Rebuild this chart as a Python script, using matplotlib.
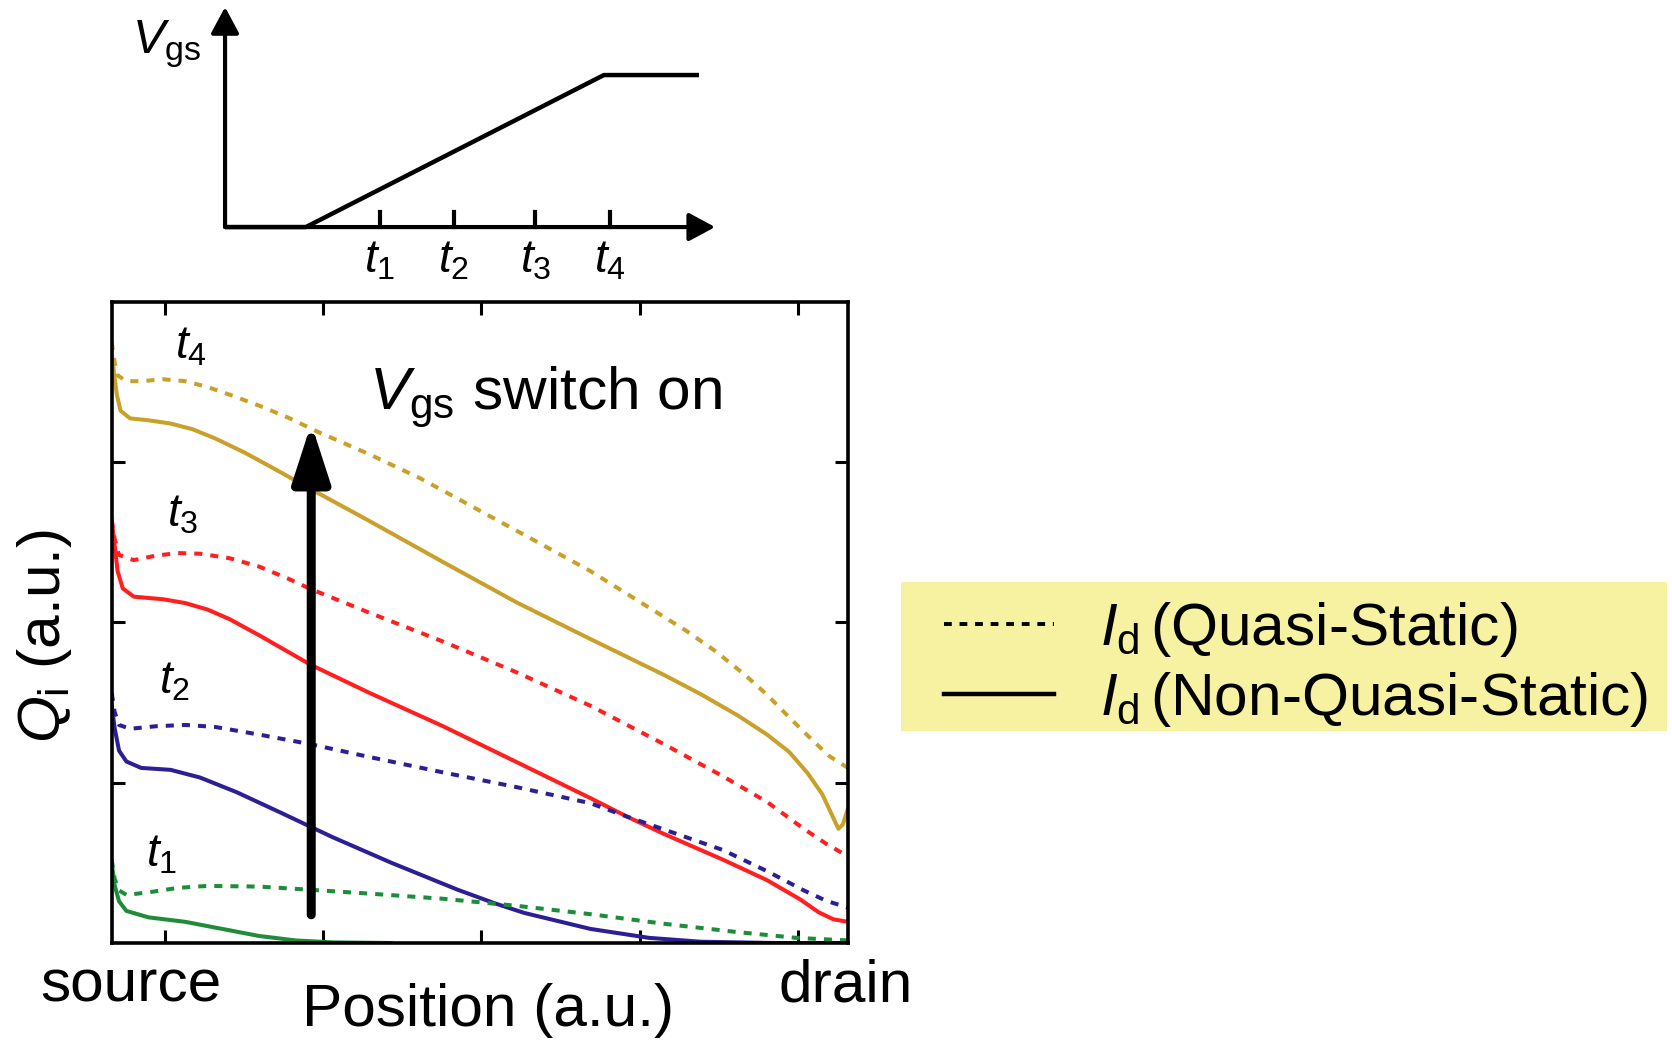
import matplotlib
matplotlib.use("Agg")
import matplotlib.pyplot as plt
from matplotlib.lines import Line2D
from matplotlib.patches import Rectangle

plt.rcParams['font.family'] = ['Liberation Sans', 'DejaVu Sans']
plt.rcParams['mathtext.fontset'] = 'custom'
plt.rcParams['mathtext.rm'] = 'Liberation Sans'
plt.rcParams['mathtext.it'] = 'Liberation Sans:italic'
plt.rcParams['mathtext.bf'] = 'Liberation Sans:bold'

# --- inset: Vgs ramp vs time ---
ramp_t = [0.0, 0.165, 0.773, 0.967]
ramp_v = [0.0, 0.0, 0.691, 0.691]
t_ticks = [0.316, 0.467, 0.633, 0.786]
t_names = ['$t_1$', '$t_2$', '$t_3$', '$t_4$']

# --- main plot: charge along the channel (position 0..1) ---
# t4 (gold)
x_t4_qs = [0.0, 0.004, 0.008, 0.02, 0.04, 0.07, 0.10, 0.13, 0.16, 0.2, 0.24, 0.28, 0.35, 0.42,
           0.50, 0.58, 0.65, 0.72, 0.78, 0.82, 0.86, 0.89, 0.92, 0.95, 0.975, 1.0]
y_t4_qs = [0.937, 0.905, 0.885, 0.876, 0.876, 0.879, 0.876, 0.867, 0.855, 0.838, 0.819, 0.797,
           0.762, 0.724, 0.674, 0.624, 0.58, 0.53, 0.487, 0.455, 0.418, 0.387, 0.352, 0.318,
           0.291, 0.273]
x_t4_nqs = [0.0, 0.003, 0.007, 0.012, 0.025, 0.05, 0.08, 0.11, 0.14, 0.18, 0.22, 0.27, 0.35, 0.45,
            0.55, 0.65, 0.75, 0.8, 0.85, 0.89, 0.92, 0.945, 0.965, 0.978, 0.987, 0.993, 1.0]
y_t4_nqs = [0.92, 0.89, 0.855, 0.83, 0.818, 0.815, 0.81, 0.801, 0.787, 0.765, 0.74, 0.708, 0.658,
            0.594, 0.531, 0.474, 0.418, 0.388, 0.355, 0.325, 0.298, 0.265, 0.232, 0.2, 0.178,
            0.185, 0.21]
# t3 (red)
x_t3_qs = [0.0, 0.004, 0.01, 0.03, 0.06, 0.09, 0.12, 0.16, 0.2, 0.24, 0.27, 0.35, 0.45, 0.55,
           0.65, 0.75, 0.83, 0.89, 0.94, 0.97, 1.0]
y_t3_qs = [0.66, 0.63, 0.605, 0.597, 0.604, 0.608, 0.607, 0.6, 0.587, 0.568, 0.552, 0.515, 0.47,
           0.422, 0.37, 0.31, 0.26, 0.22, 0.178, 0.155, 0.135]
x_t3_nqs = [0.0, 0.004, 0.008, 0.015, 0.03, 0.07, 0.1, 0.13, 0.16, 0.2, 0.27, 0.35, 0.45, 0.55,
            0.65, 0.7, 0.75, 0.83, 0.89, 0.935, 0.96, 0.98, 1.0]
y_t3_nqs = [0.66, 0.62, 0.58, 0.553, 0.54, 0.536, 0.53, 0.52, 0.505, 0.48, 0.434, 0.39, 0.338,
            0.282, 0.226, 0.197, 0.17, 0.13, 0.098, 0.068, 0.048, 0.037, 0.033]
# t2 (blue)
x_t2_qs = [0.0, 0.004, 0.01, 0.025, 0.06, 0.1, 0.14, 0.2, 0.27, 0.35, 0.45, 0.55, 0.65, 0.7, 0.75,
           0.83, 0.89, 0.94, 0.97, 1.0]
y_t2_qs = [0.39, 0.36, 0.34, 0.334, 0.338, 0.34, 0.337, 0.325, 0.31, 0.29, 0.266, 0.243, 0.218,
           0.197, 0.177, 0.145, 0.112, 0.082, 0.066, 0.055]
x_t2_nqs = [0.0, 0.004, 0.01, 0.02, 0.04, 0.08, 0.12, 0.17, 0.23, 0.3, 0.38, 0.47, 0.52, 0.56,
            0.65, 0.73, 0.8, 0.9, 1.0]
y_t2_nqs = [0.37, 0.335, 0.3, 0.283, 0.273, 0.27, 0.258, 0.235, 0.203, 0.165, 0.125, 0.083, 0.062,
            0.047, 0.022, 0.008, 0.002, 0.0, 0.0]
# t1 (green)
x_t1_qs = [0.0, 0.004, 0.01, 0.02, 0.05, 0.09, 0.13, 0.2, 0.27, 0.35, 0.45, 0.55, 0.65, 0.75, 0.85,
           0.93, 1.0]
y_t1_qs = [0.13, 0.1, 0.082, 0.075, 0.079, 0.086, 0.089, 0.088, 0.083, 0.077, 0.069, 0.058, 0.045,
           0.03, 0.017, 0.008, 0.004]
x_t1_nqs = [0.0, 0.004, 0.01, 0.02, 0.05, 0.1, 0.15, 0.2, 0.25, 0.3, 0.38]
y_t1_nqs = [0.125, 0.09, 0.065, 0.05, 0.04, 0.033, 0.022, 0.011, 0.004, 0.001, 0.0]

gold = '#C8A02A'
red = '#FF1F1F'
blue = '#2B1F96'
green = '#1F8C3A'

fig = plt.figure(figsize=(16.72, 10.42), dpi=100)

# inset
ax_in = fig.add_axes([0.1346, 0.7821, 0.2931, 0.2111])
ax_in.set_xlim(0, 1)
ax_in.set_ylim(0, 1)
ax_in.axis('off')
arr = dict(arrowstyle='-|>,head_length=0.8,head_width=0.43', mutation_scale=20,
           lw=3, color='black', shrinkA=0, shrinkB=0)
ax_in.annotate('', xy=(0, 1.0), xytext=(0, 0), arrowprops=arr, annotation_clip=False)
ax_in.annotate('', xy=(1.0, 0), xytext=(0, 0), arrowprops=arr, annotation_clip=False)
ax_in.plot(ramp_t, ramp_v, color='black', lw=3.2, solid_capstyle='butt', clip_on=False)
for tt, nm in zip(t_ticks, t_names):
    ax_in.plot([tt, tt], [0, 0.068], color='black', lw=3, clip_on=False)
    ax_in.text(tt, -0.15, nm, ha='center', va='center', fontsize=33)
ax_in.text(-0.19, 0.79, r'$V_\mathrm{gs}$', ha='left', va='baseline', fontsize=35)

# main plot
ax = fig.add_axes([0.0668, 0.095, 0.4404, 0.6155])
lw = 2.9
ax.plot(x_t4_qs, y_t4_qs, color=gold, lw=lw, dashes=(2, 2))
ax.plot(x_t4_nqs, y_t4_nqs, color=gold, lw=lw)
ax.plot(x_t3_qs, y_t3_qs, color=red, lw=lw, dashes=(2, 2))
ax.plot(x_t3_nqs, y_t3_nqs, color=red, lw=lw)
ax.plot(x_t2_qs, y_t2_qs, color=blue, lw=lw, dashes=(2, 2))
ax.plot(x_t2_nqs, y_t2_nqs, color=blue, lw=lw)
ax.plot(x_t1_qs, y_t1_qs, color=green, lw=lw, dashes=(2, 2))
ax.plot(x_t1_nqs, y_t1_nqs, color=green, lw=lw)

ax.set_xlim(0, 1)
ax.set_ylim(0, 1)
ax.set_xticks([0.072, 0.287, 0.502, 0.717, 0.932])
ax.set_yticks([0.25, 0.5, 0.75])
ax.tick_params(direction='in', length=9.5, width=2.2, top=True, right=True,
               labelbottom=False, labelleft=False)
for sp in ax.spines.values():
    sp.set_linewidth(2.6)
    sp.set_zorder(5)

ax.text(0.108, 0.93, '$t_4$', ha='center', va='center', fontsize=33)
ax.text(0.096, 0.668, '$t_3$', ha='center', va='center', fontsize=33)
ax.text(0.085, 0.407, '$t_2$', ha='center', va='center', fontsize=33)
ax.text(0.068, 0.138, '$t_1$', ha='center', va='center', fontsize=33)
ax.text(0.35, 0.831, r'$V_\mathrm{gs}$ switch on', ha='left', va='baseline', fontsize=43.5)

ax.annotate('', xy=(0.271, 0.81), xytext=(0.271, 0.044),
            arrowprops=dict(arrowstyle='-|>,head_length=1.3,head_width=0.42', mutation_scale=27,
                            lw=6.5, color='black', shrinkA=0, shrinkB=0))

fig.text(0.0783, 0.0537, 'source', ha='center', va='center', fontsize=43.5)
fig.text(0.506, 0.0537, 'drain', ha='center', va='center', fontsize=43.5)
fig.text(0.2919, 0.0298, 'Position (a.u.)', ha='center', va='center', fontsize=43.5)
fig.text(0.0269, 0.39, r'$Q_\mathrm{i}$ (a.u.)', ha='center', va='center', rotation=90,
         fontsize=43.5)

# yellow legend box
fig.patches.append(Rectangle((0.5389, 0.2985), 0.4581, 0.143, transform=fig.transFigure,
                             facecolor='#F6F2A2', edgecolor='none', zorder=0))
handles = [Line2D([], [], color='black', lw=2.8, dashes=(2, 2)),
           Line2D([], [], color='black', lw=3.2)]
labels = [r'$I_\mathrm{d}\,$(Quasi-Static)', r'$I_\mathrm{d}\,$(Non-Quasi-Static)']
leg = fig.legend(handles, labels, loc='center left', bbox_to_anchor=(0.5646, 0.362),
                 fontsize=43.5, frameon=False, handlelength=1.82, handletextpad=0.76,
                 labelspacing=0.18, borderpad=0, borderaxespad=0)

fig.savefig('out.png', dpi=100)
